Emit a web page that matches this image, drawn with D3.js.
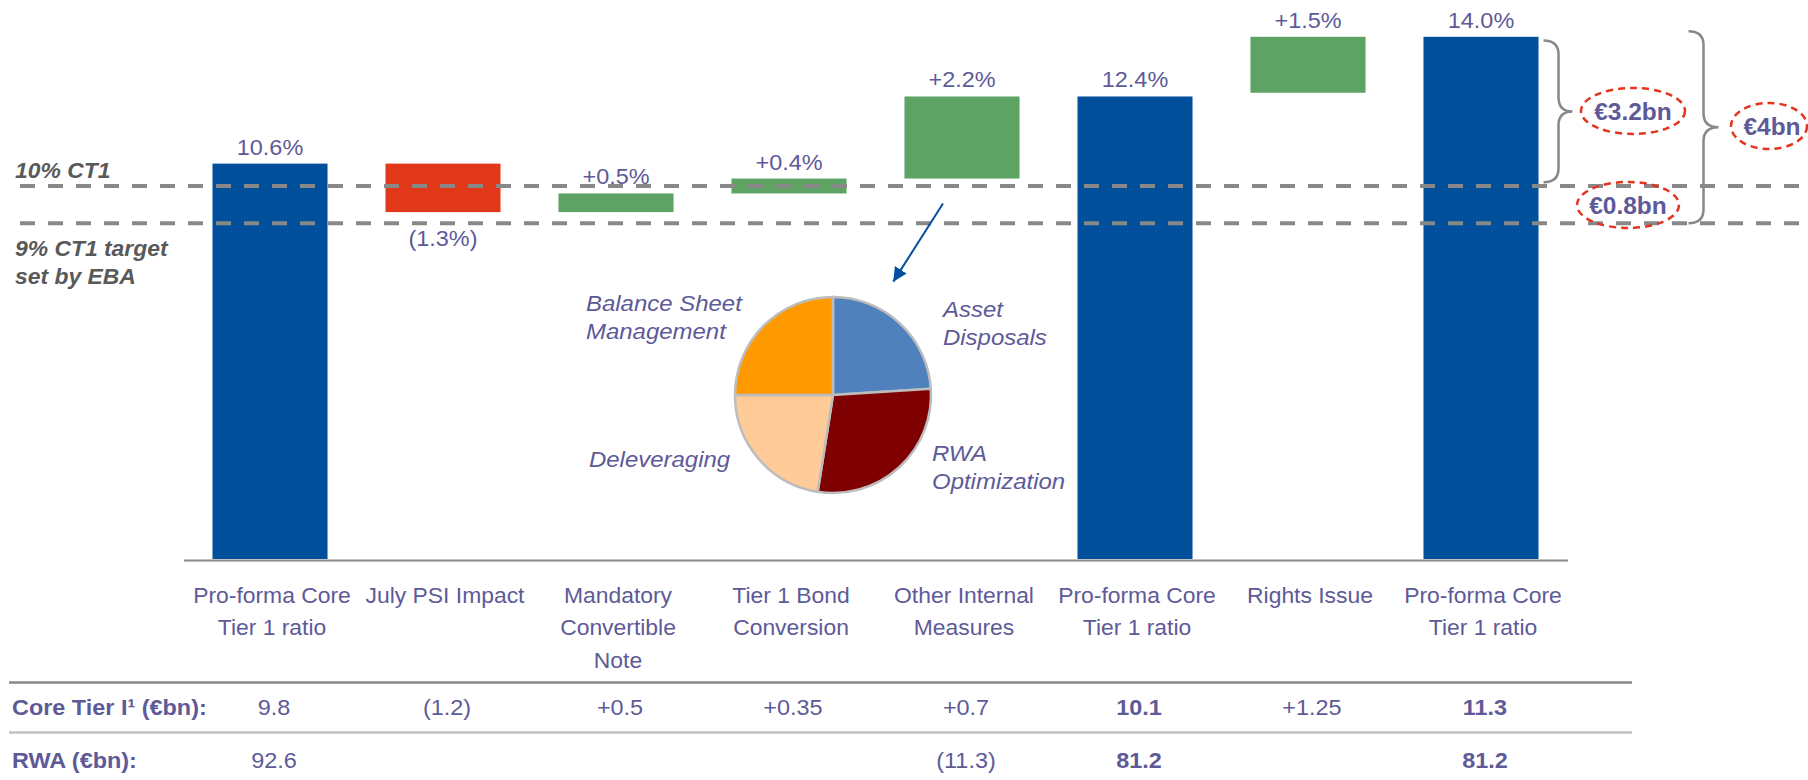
<!DOCTYPE html>
<html>
<head>
<meta charset="utf-8">
<script src="https://cdn.jsdelivr.net/npm/d3@7"></script>
<style>
  html, body { margin: 0; padding: 0; background: #ffffff; }
  svg { display: block; }
  text { font-family: "Liberation Sans", Arial, Helvetica, sans-serif; }
</style>
</head>
<body>
<svg id="chart" width="1808" height="780"></svg>
<script>
// ---------------- data ----------------
const categories = [
  "Pro-forma Core\nTier 1 ratio",
  "July PSI Impact",
  "Mandatory\nConvertible\nNote",
  "Tier 1 Bond\nConversion",
  "Other Internal\nMeasures",
  "Pro-forma Core\nTier 1 ratio",
  "Rights Issue",
  "Pro-forma Core\nTier 1 ratio"
];
const barTypes  = ["total", "delta", "delta", "delta", "delta", "total", "delta", "total"];
const barValues = [10.6, -1.3, 0.5, 0.4, 2.2, 12.4, 1.5, 14.0];
const barLabels = ["10.6%", "(1.3%)", "+0.5%", "+0.4%", "+2.2%", "12.4%", "+1.5%", "14.0%"];

const thresholdValues = [10, 9];
const thresholdLabels = [["10% CT1"], ["9% CT1 target", "set by EBA"]];

const pieLabels = [["Asset", "Disposals"], ["RWA", "Optimization"], ["Deleveraging"], ["Balance Sheet", "Management"]];
const pieValues = [24, 28.5, 22.5, 25];

const gapLabels = ["€3.2bn", "€0.8bn", "€4bn"];

const rowLabels = ["Core Tier I\u00B9 (€bn):", "RWA (€bn):"];
const coreTierValues = ["9.8", "(1.2)", "+0.5", "+0.35", "+0.7", "10.1", "+1.25", "11.3"];
const rwaValues      = ["92.6", "", "", "", "(11.3)", "81.2", "", "81.2"];

// ---------------- styles ----------------
const C = {
  blue: "#02509C", red: "#E1381A", green: "#5DA364",
  text: "#5E5A98", gray: "#888888", dark: "#595959",
  pie: ["#4F81BD", "#7F0000", "#FFCC99", "#FF9900"],
  ell: "#E4341F"
};
const SX = 1.065; // horizontal text stretch of the original rendering

const svg = d3.select("#chart");

// helper: stretched text placed at (px,py)
function addText(parent, px, py, lines, opts) {
  const t = parent.append("text")
    .attr("transform", `translate(${px},${py}) scale(${SX},1)`)
    .attr("text-anchor", opts.anchor || "start")
    .attr("font-size", opts.size || 22)
    .attr("font-weight", opts.weight || "normal")
    .attr("font-style", opts.style || "normal")
    .attr("fill", opts.fill || C.text);
  (Array.isArray(lines) ? lines : [lines]).forEach((line, k) => {
    t.append("tspan").attr("x", 0).attr("dy", k === 0 ? 0 : (opts.lh || 28)).text(line);
  });
  return t;
}

// ---------------- scales ----------------
const x = d3.scaleBand()
  .domain(d3.range(categories.length))
  .range([183.5, 1567.5])
  .paddingInner(0.335)
  .paddingOuter(0.1675);

const y = d3.scaleLinear().domain([0, 14]).range([559, 36.8]);

// compute waterfall extents (deltas anchored to the following total)
const bars = [];
let level = null;
for (let i = barValues.length - 1; i >= 0; i--) {
  const v = barValues[i];
  if (barTypes[i] === "total") {
    bars[i] = { lo: 0, hi: v, type: "total", v };
    level = v;
  } else {
    const after = level, before = after - v;
    bars[i] = { lo: Math.min(before, after), hi: Math.max(before, after), type: v < 0 ? "neg" : "pos", v };
    level = before;
  }
}
bars.forEach((b, i) => { b.i = i; b.label = barLabels[i]; });

// ---------------- bars ----------------
svg.append("g").selectAll("rect").data(bars).join("rect")
  .attr("x", d => x(d.i))
  .attr("width", x.bandwidth())
  .attr("y", d => y(d.hi))
  .attr("height", d => y(d.lo) - y(d.hi))
  .attr("fill", d => d.type === "total" ? C.blue : d.type === "neg" ? C.red : C.green);

// axis line (category axis)
const xAxis = d3.axisBottom(x).tickSize(0).tickFormat("");
const axG = svg.append("g").attr("transform", `translate(0,${y(0) + 1})`).call(xAxis);
axG.select(".domain").attr("stroke", C.gray).attr("stroke-width", 2);

// ---------------- threshold dashed lines ----------------
svg.append("g").selectAll("line").data(thresholdValues).join("line")
  .attr("x1", 20).attr("x2", 1808)
  .attr("y1", d => y(d)).attr("y2", d => y(d))
  .attr("stroke", C.gray).attr("stroke-width", 4)
  .attr("stroke-dasharray", "15,13");

const thrG = svg.append("g");
addText(thrG, 15, y(thresholdValues[0]) - 8, thresholdLabels[0],
  { size: 21.5, weight: "bold", style: "italic", fill: C.dark });
addText(thrG, 15, y(thresholdValues[1]) + 33, thresholdLabels[1],
  { size: 21.5, weight: "bold", style: "italic", fill: C.dark, lh: 28 });

// ---------------- bar value labels ----------------
const lblG = svg.append("g");
bars.forEach(d => {
  addText(lblG, x(d.i) + x.bandwidth() / 2,
    d.type === "neg" ? y(d.lo) + 34 : y(d.hi) - 9,
    d.label, { anchor: "middle", size: 22 });
});

// ---------------- category labels ----------------
const catG = svg.append("g");
categories.forEach((c, i) => {
  addText(catG, x(i) + x.bandwidth() / 2 + 2, 603, c.split("\n"),
    { anchor: "middle", size: 21.5, lh: 32.5 });
});

// ---------------- pie ----------------
const pieCx = 833, pieCy = 395, pieR = 98;
const pie = d3.pie().sort(null).value(d => d)(pieValues);
const arc = d3.arc().innerRadius(0).outerRadius(pieR);
const pieG = svg.append("g").attr("transform", `translate(${pieCx},${pieCy})`);
pieG.selectAll("path").data(pie).join("path")
  .attr("d", arc)
  .attr("fill", (d, i) => C.pie[i])
  .attr("stroke", "#BDBDBD").attr("stroke-width", 2.5);

const pieLabelLayout = [
  { dx: 110, dy: -78 },
  { dx: 99, dy: 66 },
  { dx: -244, dy: 72 },
  { dx: -247, dy: -84 }
];
pieLabels.forEach((lines, i) => {
  addText(pieG, pieLabelLayout[i].dx, pieLabelLayout[i].dy, lines,
    { size: 22.5, style: "italic", lh: 28.5 });
});

// arrow from "Other Internal Measures" bar to the pie
const defs = svg.append("defs");
defs.append("marker").attr("id", "arrowhead")
  .attr("markerUnits", "userSpaceOnUse")
  .attr("markerWidth", 16).attr("markerHeight", 16)
  .attr("refX", 14).attr("refY", 7).attr("orient", "auto")
  .append("path").attr("d", "M0,0 L14,7 L0,14 Z").attr("fill", C.blue);
const ob = bars[4];
const ax1 = x(4) + x.bandwidth() / 2 - 19, ay1 = y(ob.lo) + 25;
const ang = 28 * Math.PI / 180, rr = pieR * 1.31;
const ax2 = pieCx + rr * Math.sin(ang), ay2 = pieCy - rr * Math.cos(ang);
svg.append("line")
  .attr("x1", ax1).attr("y1", ay1).attr("x2", ax2).attr("y2", ay2)
  .attr("stroke", C.blue).attr("stroke-width", 2)
  .attr("marker-end", "url(#arrowhead)");

// ---------------- braces & capital gap annotations ----------------
function brace(x0, xv, xp, y1, y2, r) {
  const ym = (y1 + y2) / 2;
  return `M${x0},${y1} Q${xv},${y1} ${xv},${y1 + r} L${xv},${ym - r} Q${xv},${ym} ${xp},${ym} ` +
         `Q${xv},${ym} ${xv},${ym + r} L${xv},${y2 - r} Q${xv},${y2} ${x0},${y2}`;
}
const annG = svg.append("g");
const lastBarRight = x(7) + x.bandwidth();
annG.append("path").attr("d", brace(lastBarRight + 5, lastBarRight + 20, lastBarRight + 34, y(13.9), y(10.1), 14))
  .attr("fill", "none").attr("stroke", C.gray).attr("stroke-width", 2.5);
annG.append("path").attr("d", brace(lastBarRight + 150, lastBarRight + 165, lastBarRight + 180, y(14.15), y(9.0), 14))
  .attr("fill", "none").attr("stroke", C.gray).attr("stroke-width", 2.5);

const gapLayout = [
  { cx: 1633, cy: 111, rx: 52, ry: 23 },
  { cx: 1628, cy: 205, rx: 51, ry: 23 },
  { cx: 1769, cy: 126, rx: 38, ry: 23 }
];
gapLabels.forEach((g, i) => {
  const L = gapLayout[i];
  annG.append("ellipse").attr("cx", L.cx).attr("cy", L.cy).attr("rx", L.rx).attr("ry", L.ry)
    .attr("fill", "none").attr("stroke", C.ell).attr("stroke-width", 2.5).attr("stroke-dasharray", "7,5");
  addText(annG, L.cx + (i === 2 ? 3 : 0), L.cy + 8.5, g,
    { anchor: "middle", size: 23, weight: "bold" });
});

// ---------------- table ----------------
const tblG = svg.append("g");
tblG.append("line").attr("x1", 9).attr("x2", 1632).attr("y1", 682.5).attr("y2", 682.5)
  .attr("stroke", C.gray).attr("stroke-width", 2.5);
tblG.append("line").attr("x1", 9).attr("x2", 1632).attr("y1", 732.5).attr("y2", 732.5)
  .attr("stroke", "#C0C0C0").attr("stroke-width", 2.5);

const rowY = [715, 768];
rowLabels.forEach((r, k) => {
  addText(tblG, 12, rowY[k], r, { size: 22, weight: "bold" });
});
[coreTierValues, rwaValues].forEach((vals, k) => {
  vals.forEach((d, i) => {
    if (!d) return;
    addText(tblG, x(i) + x.bandwidth() / 2 + 4, rowY[k], d,
      { anchor: "middle", size: 22, weight: barTypes[i] === "total" && i > 0 ? "bold" : "normal" });
  });
});
</script>
</body>
</html>
